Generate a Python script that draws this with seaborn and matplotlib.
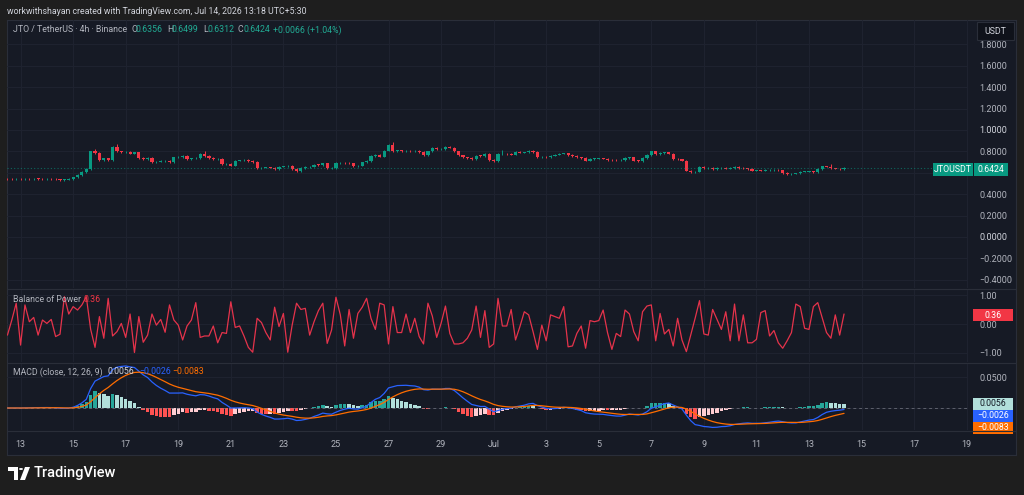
import numpy as np
import pandas as pd
import matplotlib
matplotlib.use("Agg")
import matplotlib.pyplot as plt
from matplotlib.lines import Line2D
from matplotlib.patches import Rectangle, Polygon, Circle
import seaborn as sns

# JTO/USDT 4h closes (first candle Jun 12 12:00)
closes = [
    0.540, 0.538, 0.541, 0.539, 0.543, 0.541, 0.545, 0.543, 0.542, 0.543,
    0.541, 0.538, 0.534, 0.537, 0.542, 0.558, 0.580, 0.605, 0.636, 0.800,
    0.785, 0.720, 0.735, 0.720, 0.845, 0.800, 0.790, 0.795, 0.780, 0.790,
    0.736, 0.728, 0.740, 0.700, 0.705, 0.710, 0.712, 0.700, 0.745, 0.748,
    0.755, 0.728, 0.735, 0.738, 0.776, 0.755, 0.738, 0.728, 0.730, 0.680,
    0.683, 0.668, 0.714, 0.716, 0.718, 0.710, 0.700, 0.642, 0.648, 0.650,
    0.647, 0.632, 0.657, 0.660, 0.662, 0.636, 0.617, 0.643, 0.652, 0.658,
    0.677, 0.675, 0.688, 0.642, 0.645, 0.690, 0.693, 0.690, 0.688, 0.660,
    0.666, 0.697, 0.710, 0.755, 0.765, 0.752, 0.808, 0.860, 0.800, 0.810,
    0.800, 0.805, 0.800, 0.806, 0.792, 0.765, 0.800, 0.830, 0.818, 0.820,
    0.845, 0.835, 0.800, 0.762, 0.745, 0.740, 0.730, 0.760, 0.758, 0.776,
    0.720, 0.708, 0.776, 0.780, 0.775, 0.770, 0.792, 0.788, 0.790, 0.807,
    0.795, 0.745, 0.750, 0.748, 0.760, 0.770, 0.780, 0.782, 0.765, 0.755,
    0.745, 0.740, 0.714, 0.730, 0.732, 0.735, 0.733, 0.720, 0.718, 0.716,
    0.720, 0.738, 0.745, 0.714, 0.712, 0.738, 0.767, 0.800, 0.775, 0.785,
    0.790, 0.780, 0.730, 0.725, 0.714, 0.620, 0.605, 0.610, 0.652, 0.640,
    0.645, 0.635, 0.643, 0.648, 0.638, 0.645, 0.655, 0.645, 0.642, 0.636,
    0.620, 0.622, 0.620, 0.625, 0.625, 0.628, 0.622, 0.600, 0.589, 0.592,
    0.595, 0.610, 0.610, 0.612, 0.605, 0.636, 0.660, 0.658, 0.642, 0.638,
    0.6356, 0.6424,
]
first_open = 0.542
big_wicks = {20: 0.82, 25: 0.865, 45: 0.80, 88: 0.885, 113: 0.815, 188: 0.68}

# Balance of Power line
bop = [
    -0.39, 0.14, 0.73, -0.74, 0.67, 0.08, 0.23, -0.39, 0.14, 0.02,
    0.16, -0.44, -0.36, 0.96, 0.35, 0.61, 0.49, 0.67, 0.96, -0.19,
    -0.82, 0.26, -0.50, 0.90, -0.42, -0.27, 0.02, -0.47, 0.35, -1.00,
    0.26, -0.64, -0.39, 0.35, -0.04, 0.16, -0.29, 0.67, 0.14, -0.04,
    -0.56, -0.07, 0.14, 0.75, -0.47, -0.42, -0.42, -0.07, -0.66, -0.30,
    -0.33, 0.78, -0.12, -0.07, -0.42, -0.82, -0.99, 0.20, 0.05, -0.30,
    -0.56, 0.59, -0.09, 0.37, -0.99, -0.04, 0.73, 0.51, 0.55, -0.39,
    0.08, 0.47, 0.73, -0.68, -0.21, 0.94, 0.32, -0.77, 0.51, -0.50,
    0.37, 0.59, 0.90, 0.20, -0.19, 0.73, 0.67, -0.70, 0.61, -0.30,
    -0.30,
    0.35, -0.30, 0.20, -0.44, -0.70, 0.73, 0.28, -0.47, 0.02, 0.63,
    -0.33, -0.70, -0.70, -0.66, -0.50, -0.21, 0.63, -0.47, 0.47, -0.82,
    -0.70, 0.90, -0.07, -0.07, 0.51, -0.56, -0.09, 0.43, 0.32, -0.27,
    -0.89, -0.04, -0.59, 0.32, 0.26, 0.20, 0.61, -0.80, -0.77, -0.33,
    -0.07, -0.85, 0.12, 0.08, 0.12, 0.49, -0.30, -0.89, -0.33, -0.44,
    0.49, 0.35, -0.27, -0.59, 0.43, 0.63, 0.67, -0.59, 0.37, -0.35,
    -0.19, -0.77, 0.20, -0.56, -0.97, -0.39, 0.20, 0.82, -0.35, -0.39,
    0.51, 0.16, -0.19, 0.43, -0.59, 0.70, -0.59, 0.32, -0.66, -0.66,
    -0.54, 0.40, 0.47, -0.42, -0.23, -0.66, -0.85, -0.59, -0.30, 0.70,
    0.61, -0.15, -0.19, 0.61, 0.75, 0.23, -0.30, -0.50, 0.32, -0.39,
    0.35,
]

price_ticks = [-0.4, -0.2, 0.0, 0.2, 0.4, 0.6, 0.8, 1.0, 1.2, 1.4, 1.6, 1.8]
day_ticks = [13, 15, 17, 19, 21, 23, 25, 27, 29, "Jul", 3, 5, 7, 9, 11, 13, 15, 17, 19]

OUTER = "#1e1e1e"
BG = "#161a25"
GRID = "#1f2330"
SEP = "#2a2e39"
TXT = "#b2b5be"
UP = "#089981"
DOWN = "#f23645"
BLUE = "#2962ff"
ORANGE = "#ff6d00"

n = len(closes)
df = pd.DataFrame({
    "time": pd.date_range("2026-06-12 12:00", periods=n, freq="4h"),
    "close": closes,
    "bop": bop[:n],
})
df["x"] = np.arange(n)
df["open"] = df["close"].shift(1).fillna(first_open)
df["high"] = df[["open", "close"]].max(axis=1) + 0.007
df["low"] = df[["open", "close"]].min(axis=1) - 0.007
for i, h in big_wicks.items():
    df.loc[i, "high"] = h
ema12 = df["close"].ewm(span=12, adjust=False).mean()
ema26 = df["close"].ewm(span=26, adjust=False).mean()
df["macd"] = ema12 - ema26
df["signal"] = df["macd"].ewm(span=9, adjust=False).mean()
df["hist"] = df["macd"] - df["signal"]

sns.set_theme(style="dark")
plt.rcParams["font.family"] = ["Roboto", "DejaVu Sans"]

W, H = 1024, 495
fig = plt.figure(figsize=(W / 100, H / 100), dpi=100, facecolor=OUTER)


def rect(x0, y0, x1, y1):
    return [x0 / W, 1 - y1 / H, (x1 - x0) / W, (y1 - y0) / H]


def fx(px):
    return px / W


def fy(py):
    return 1 - py / H


def txt(x, y, s, color=TXT, size=6.3, **kw):
    fig.text(fx(x), fy(y), s, color=color, fontsize=size, va="center", ha="left", **kw)


def tag(x0, x1, yc, h, s, bg, fg="white"):
    fig.add_artist(Rectangle((fx(x0), fy(yc + h / 2)), (x1 - x0) / W, h / H,
                             transform=fig.transFigure, facecolor=bg, edgecolor="none"))
    fig.text(fx((x0 + x1) / 2), fy(yc), s, color=fg, fontsize=6.3, ha="center", va="center")


frame = fig.add_axes(rect(7, 20, 1016, 455))
frame.set_facecolor(BG)
frame.set_xticks([])
frame.set_yticks([])
for sp in frame.spines.values():
    sp.set_color(SEP)
    sp.set_linewidth(0.8)

xlim = (-0.1, 219.3)
xt = [3 + 12 * k for k in range(len(day_ticks))]


def pane(y0, y1, ylim, yt, ylabels):
    ax = fig.add_axes(rect(7, y0, 968, y1))
    ax.set_facecolor("none")
    ax.set_xlim(*xlim)
    ax.set_ylim(*ylim)
    ax.set_xticks(xt)
    ax.set_xticklabels([])
    ax.set_yticks(yt)
    ax.set_yticklabels(ylabels)
    ax.yaxis.tick_right()
    ax.tick_params(axis="both", length=0)
    ax.tick_params(axis="y", pad=8, labelsize=6.5, labelcolor=TXT)
    ax.grid(True, color=GRID, linewidth=0.7)
    ax.set_xlabel("")
    ax.set_ylabel("")
    for sp in ax.spines.values():
        sp.set_visible(False)
    return ax


def fmt(v, d):
    return f"{v:.{d}f}".replace("-", "\u2212")


# price pane (the 0.6000 label sits under the last-price tag)
ax1 = pane(20, 288, (-0.477, 2.028), price_ticks,
           ["" if v == 0.6 else fmt(v, 4) for v in price_ticks])
for lab, v in zip(ax1.get_yticklabels(), price_ticks):
    if v in (0.0, 1.0):
        lab.set_color("#d1d4dc")
up = df["close"] >= df["open"]
cols = np.where(up, UP, DOWN)
ax1.axhline(closes[-1], color=UP, lw=0.8, ls=(0, (1, 2)), alpha=0.6)
ax1.vlines(df["x"], df["low"], df["high"], colors=cols, lw=0.7)
ax1.bar(df["x"], np.maximum((df["close"] - df["open"]).abs(), 0.004),
        bottom=df[["open", "close"]].min(axis=1), width=0.72, color=cols, linewidth=0)

# balance of power pane
ax2 = pane(289, 362, (-1.333, 1.228), [-1, 0, 1], ["\u22121.00", "0.00", "1.00"])
sns.lineplot(data=df, x="x", y="bop", ax=ax2, color="#e5334b", lw=0.9)
ax2.set_xlabel("")
ax2.set_ylabel("")

# MACD pane (zero label hidden behind the value tags)
ax3 = pane(363, 430, (-0.0355, 0.0726), [0.0, 0.05], ["", "0.0500"])
ax3.axhline(0, color="#787b86", lw=0.7, ls=(0, (3, 3)), alpha=0.7)
hist = df["hist"].values
prev = np.concatenate([[0.0], hist[:-1]])
hcols = np.where(hist >= 0, np.where(hist >= prev, "#26a69a", "#b2dfdb"),
                 np.where(hist <= prev, "#ff5252", "#ffcdd2"))
ax3.bar(df["x"], hist, width=0.8, color=hcols, linewidth=0)
sns.lineplot(data=df, x="x", y="macd", ax=ax3, color=BLUE, lw=0.9)
sns.lineplot(data=df, x="x", y="signal", ax=ax3, color=ORANGE, lw=0.9)
ax3.set_xlabel("")
ax3.set_ylabel("")
ax3.set_xticklabels([str(d) for d in day_ticks])
ax3.tick_params(axis="x", pad=7, labelsize=6.5, labelcolor=TXT)

# pane separators
for yy in (288.5, 362.5, 430.5):
    fig.add_artist(Line2D([fx(7), fx(1016)], [fy(yy), fy(yy)], transform=fig.transFigure,
                          color=SEP, lw=0.8))

# header and legends
txt(7, 11, "workwithshayan created with TradingView.com, Jul 14, 2026 13:18 UTC+5:30", color="#d1d4dc")
G = "#22ab94"
txt(13, 30, "JTO / TetherUS \u00b7 4h \u00b7 Binance")
for x, s, c in [(131, "O", TXT), (136, "0.6356", G), (167, "H", TXT), (172, "0.6499", G),
                (203, "L", TXT), (207, "0.6312", G), (238, "C", TXT), (243, "0.6424", G),
                (273, "+0.0066 (+1.04%)", G)]:
    txt(x, 30, s, color=c)
txt(13, 300, "Balance of Power")
txt(83, 300, "0.36", color=DOWN)
txt(13, 372, "MACD (close, 12, 26, 9)")
txt(107, 372, "0.0056", color="#d1d4dc")
txt(139, 372, "\u22120.0026", color=BLUE)
txt(172, 372, "\u22120.0083", color=ORANGE)

# right-side tags
fig.add_artist(Rectangle((fx(977), fy(40)), 37 / W, 18 / H, transform=fig.transFigure,
                         facecolor="#0f121a", edgecolor=SEP, lw=0.8))
fig.text(fx(995.5), fy(31), "USDT", color="#d1d4dc", fontsize=6.3, ha="center", va="center")
tag(933, 973, 169, 13, "JTOUSDT", UP)
tag(974, 1008, 169, 13, "0.6424", UP)
tag(973, 1013, 315, 12, "0.36", DOWN)
tag(973, 1013, 404, 12, "0.0056", "#b2dfdb", "#131722")
tag(973, 1013, 416, 12, "\u22120.0026", BLUE)
tag(973, 1013, 428, 12, "\u22120.0083", ORANGE)

# TradingView logo
tr = fig.transFigure
fig.add_artist(Polygon([(fx(8), fy(467)), (fx(18), fy(467)), (fx(18), fy(480)),
                        (fx(14), fy(480)), (fx(14), fy(471)), (fx(8), fy(471))],
                       closed=True, transform=tr, facecolor="white", edgecolor="none"))
fig.add_artist(Circle((fx(21), fy(469)), 2 / W, transform=tr, facecolor="white", edgecolor="none"))
fig.add_artist(Polygon([(fx(25), fy(467)), (fx(30), fy(467)), (fx(25), fy(480)), (fx(20), fy(480))],
                       closed=True, transform=tr, facecolor="white", edgecolor="none"))
fig.text(fx(34), fy(473.5), "TradingView", color="white", fontsize=10.5, fontweight="medium",
         ha="left", va="center")

fig.savefig("out.png", dpi=100, facecolor=OUTER)
